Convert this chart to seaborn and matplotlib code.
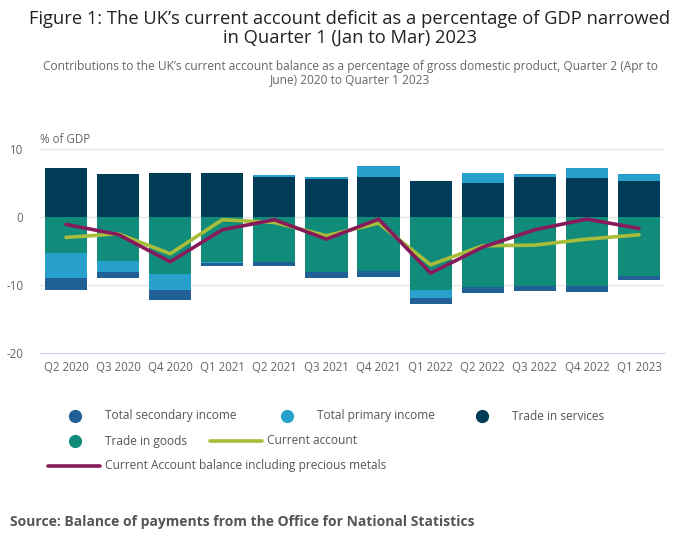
import numpy as np
import seaborn as sns
import matplotlib.pyplot as plt
from matplotlib.lines import Line2D

quarters = ["Q2 2020", "Q3 2020", "Q4 2020", "Q1 2021", "Q2 2021", "Q3 2021",
            "Q4 2021", "Q1 2022", "Q2 2022", "Q3 2022", "Q4 2022", "Q1 2023"]
trade_goods = [-5.26, -6.44, -8.36, -6.59, -6.59, -8.07, -7.92, -10.72, -10.28, -10.13, -10.13, -8.66]
trade_services = [7.28, 6.30, 6.44, 6.54, 5.95, 5.56, 5.95, 5.36, 5.07, 5.95, 5.80, 5.36]
primary_income = [-3.69, -1.63, -2.36, -0.20, 0.30, 0.39, 1.62, -1.18, 1.47, 0.44, 1.48, 1.03]
secondary_income = [-1.77, -0.88, -1.48, -0.49, -0.69, -0.88, -0.88, -0.89, -0.89, -0.74, -0.89, -0.59]
current_account = [-3.0, -2.46, -5.41, -0.39, -0.79, -2.75, -0.89, -7.03, -4.23, -4.13, -3.25, -2.61]
ca_precious = [-1.08, -2.56, -6.59, -1.87, -0.39, -3.25, -0.30, -8.26, -4.43, -1.87, -0.30, -1.67]

COL_SEC = "#206095"
COL_PRI = "#27a0cc"
COL_SERV = "#003c57"
COL_GOODS = "#118c7b"
COL_CA = "#a8bd3a"
COL_CAPM = "#871a5b"

sns.set_style("white")
plt.rcParams["font.family"] = ["Open Sans", "DejaVu Sans"]
plt.rcParams["axes.unicode_minus"] = False

fig = plt.figure(figsize=(7, 5.49), dpi=100)
ax = fig.add_axes([40 / 700, 1 - 352.7 / 549, 625 / 700, 203.4 / 549])

# stacked bars: positives build up from zero, negatives build down
pos_base = np.zeros(len(quarters))
neg_base = np.zeros(len(quarters))
for vals, col in [(trade_goods, COL_GOODS), (trade_services, COL_SERV),
                  (primary_income, COL_PRI), (secondary_income, COL_SEC)]:
    v = np.array(vals)
    bottoms = np.where(v >= 0, pos_base, neg_base)
    sns.barplot(x=quarters, y=v, bottom=bottoms, color=col, saturation=1,
                width=0.81, errorbar=None, ax=ax, linewidth=0, zorder=2)
    pos_base = pos_base + np.clip(v, 0, None)
    neg_base = neg_base + np.clip(v, None, 0)

xpos = np.arange(len(quarters))
sns.lineplot(x=xpos, y=current_account, color=COL_CA, linewidth=2.6, ax=ax, zorder=3)
sns.lineplot(x=xpos, y=ca_precious, color=COL_CAPM, linewidth=2.6, ax=ax, zorder=4)

ax.set_xlim(-0.5, len(quarters) - 0.5)
ax.set_ylim(-20, 10)
ax.set_yticks([-20, -10, 0, 10])
ax.set_yticklabels(["-20", "-10", "0", "10"])
ax.set_xticks(xpos)
ax.set_xticklabels(quarters)
ax.set_xticks(np.arange(-0.5, len(quarters)), minor=True)
ax.tick_params(axis="x", which="major", length=0, labelsize=8.3, colors="#666666", pad=6)
ax.tick_params(axis="x", which="minor", length=8, color="#ccd6eb", width=1)
ax.tick_params(axis="y", length=0, labelsize=8.3, colors="#666666", pad=12)
for y in [-10, 0, 10]:
    ax.axhline(y, color="#e6e6e6", linewidth=1, zorder=1)
for s in ["top", "right", "left"]:
    ax.spines[s].set_visible(False)
ax.spines["bottom"].set_color("#ccd6eb")
ax.set_xlabel("")
ax.set_ylabel("")
ax.set_facecolor("white")

ax.text(0.0, 1.015, "% of GDP", transform=ax.transAxes, fontsize=8.3,
        color="#666666", ha="left", va="bottom")

fig.text(0.5, 1 - 28 / 549, "Figure 1: The UK\u2019s current account deficit as a percentage of GDP narrowed\nin Quarter 1 (Jan to Mar) 2023",
         ha="center", va="center", fontsize=13.2, color="#222222", linespacing=1.05)
fig.text(0.5, 1 - 73 / 549, "Contributions to the UK\u2019s current account balance as a percentage of gross domestic product, Quarter 2 (Apr to\nJune) 2020 to Quarter 1 2023",
         ha="center", va="center", fontsize=8.6, color="#666666", linespacing=1.05)

# legend entries laid out like the original flow legend
def legend_dot(x, y, col, label):
    fig.add_artist(Line2D([x / 700], [1 - y / 549], marker="o", markersize=8.5,
                          color=col, linestyle="none", transform=fig.transFigure))
    fig.text((x + 30) / 700, 1 - y / 549, label, fontsize=8.6, color="#555555",
             ha="left", va="center")

def legend_line(x0, x1, y, col, label):
    fig.add_artist(Line2D([x0 / 700, x1 / 700], [1 - y / 549, 1 - y / 549],
                          color=col, linewidth=2.6, transform=fig.transFigure))
    fig.text((x1 + 5) / 700, 1 - y / 549, label, fontsize=8.6, color="#555555",
             ha="left", va="center")

legend_dot(75, 416, COL_SEC, "Total secondary income")
legend_dot(287, 416, COL_PRI, "Total primary income")
legend_dot(482, 416, COL_SERV, "Trade in services")
legend_dot(75, 441, COL_GOODS, "Trade in goods")
legend_line(210, 262, 441, COL_CA, "Current account")
legend_line(48, 100, 466, COL_CAPM, "Current Account balance including precious metals")

fig.text(10 / 700, 1 - 522 / 549, "Source: Balance of payments from the Office for National Statistics",
         ha="left", va="center", fontsize=10, fontweight="bold", color="#555555")

fig.savefig("out.png", dpi=100, facecolor="white")
